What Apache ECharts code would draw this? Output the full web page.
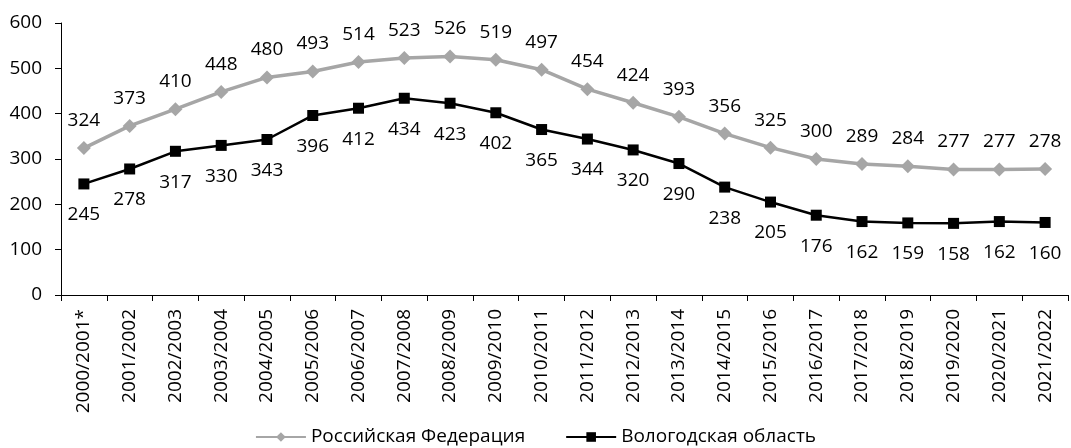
<!DOCTYPE html>
<html><head><meta charset="utf-8">
<script src="https://cdn.jsdelivr.net/npm/echarts@6/dist/echarts.min.js"></script>
<style>html,body{margin:0;padding:0;background:#fff}#c{width:1071px;height:448px}</style>
</head><body><div id="c"></div>
<script>
const categories = ['2000/2001*','2001/2002','2002/2003','2003/2004','2004/2005','2005/2006','2006/2007','2007/2008','2008/2009','2009/2010','2010/2011','2011/2012','2012/2013','2013/2014','2014/2015','2015/2016','2016/2017','2017/2018','2018/2019','2019/2020','2020/2021','2021/2022'];
const russia = [324,373,410,448,480,493,514,523,526,519,497,454,424,393,356,325,300,289,284,277,277,278];
const vologda = [245,278,317,330,343,396,412,434,423,402,365,344,320,290,238,205,176,162,159,158,162,160];
const seriesNames = ['Российская Федерация','Вологодская область'];
const FONT = '"Open Sans", "Noto Sans", sans-serif';
const FS = 19;
const chart = echarts.init(document.getElementById('c'));
chart.setOption({
  animation: false,
  textStyle: {fontFamily: FONT},
  grid: {left: 61, right: 3, top: 23, bottom: 153, containLabel: false},
  legend: {
    top: 421, left: 'center', itemWidth: 50, itemHeight: 12, itemGap: 40,
    textStyle: {fontFamily: FONT, fontSize: FS, color: '#000', lineHeight: 22},
    data: seriesNames
  },
  xAxis: {
    type: 'category', data: categories, boundaryGap: true,
    axisLine: {lineStyle: {color: '#000', width: 1}},
    axisTick: {show: true, alignWithLabel: false, length: 6, lineStyle: {color: '#000'}},
    axisLabel: {rotate: 90, fontSize: FS, color: '#000', fontFamily: FONT, margin: 14, interval: 0}
  },
  yAxis: {
    type: 'value', min: 0, max: 600, interval: 100,
    axisLine: {show: true, lineStyle: {color: '#000'}},
    axisTick: {show: true, length: 6, inside: false, lineStyle: {color: '#000'}},
    splitLine: {show: false},
    axisLabel: {fontSize: FS, color: '#000', fontFamily: FONT, margin: 19}
  },
  series: [
    {
      name: seriesNames[0], type: 'line', data: russia,
      symbol: 'diamond', symbolSize: 14,
      lineStyle: {color: '#A6A6A6', width: 3.5},
      itemStyle: {color: '#A6A6A6'},
      label: {show: true, position: 'top', distance: 11, fontSize: FS, color: '#000', fontFamily: FONT}
    },
    {
      name: seriesNames[1], type: 'line', data: vologda,
      symbol: 'rect', symbolSize: 11,
      lineStyle: {color: '#000', width: 2.5},
      itemStyle: {color: '#000'},
      label: {show: true, position: 'bottom', distance: 16, fontSize: FS, color: '#000', fontFamily: FONT}
    }
  ]
});
</script></body></html>
